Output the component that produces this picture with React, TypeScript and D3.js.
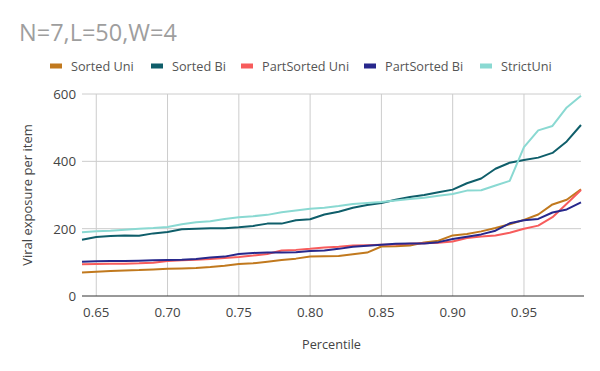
import React from "react";
import * as d3 from "d3";

const percentiles = [
  0.64, 0.65, 0.66, 0.67, 0.68, 0.69, 0.7, 0.71, 0.72, 0.73, 0.74, 0.75,
  0.76, 0.77, 0.78, 0.79, 0.8, 0.81, 0.82, 0.83, 0.84, 0.85, 0.86, 0.87,
  0.88, 0.89, 0.9, 0.91, 0.92, 0.93, 0.94, 0.95, 0.96, 0.97, 0.98, 0.99,
];

const sortedUni = [
  70, 72, 74, 76, 77, 79, 81, 82, 83, 86, 90, 95, 97, 102, 107, 111, 117,
  118, 119, 124, 129, 147, 148, 150, 159, 164, 180, 184, 192, 202, 213, 226,
  242, 272, 286, 317,
];
const sortedBi = [
  167, 175, 178, 180, 179, 186, 190, 198, 200, 201, 201, 204, 208, 215, 215,
  225, 228, 242, 250, 262, 270, 276, 286, 294, 300, 308, 316, 335, 349, 378,
  396, 404, 411, 425, 459, 508,
];
const partSortedUni = [
  94, 95, 96, 96, 97, 99, 104, 106, 108, 110, 113, 116, 120, 125, 135, 137,
  140, 144, 146, 150, 151, 152, 153, 155, 157, 158, 162, 172, 177, 180, 188,
  200, 209, 234, 274, 315,
];
const partSortedBi = [
  102, 103, 104, 104, 105, 106, 107, 108, 110, 114, 117, 125, 128, 129, 129,
  130, 134, 135, 140, 146, 149, 152, 155, 156, 156, 160, 169, 176, 183, 194,
  216, 225, 229, 248, 257, 278,
];
const strictUni = [
  189, 192, 194, 197, 200, 202, 205, 213, 219, 222, 229, 234, 237, 241, 249,
  254, 259, 262, 267, 273, 276, 279, 284, 288, 292, 298, 303, 313, 314, 328,
  342, 442, 492, 505, 560, 595,
];

const seriesNames = ["Sorted Uni", "Sorted Bi", "PartSorted Uni", "PartSorted Bi", "StrictUni"];
const seriesColors = ["#c1791e", "#0f5e6a", "#f75c5c", "#27288c", "#8ad9d2"];
const seriesValues = [sortedUni, sortedBi, partSortedUni, partSortedBi, strictUni];

const xTicks = [0.65, 0.7, 0.75, 0.8, 0.85, 0.9, 0.95];
const yTicks = [0, 200, 400, 600];

const font = "'Open Sans', Roboto, sans-serif";

export default function App() {
  const width = 600;
  const height = 371;
  const margin = { top: 94, right: 19, bottom: 75, left: 82 };

  const x = d3
    .scaleLinear()
    .domain([0.64, 0.99])
    .range([margin.left, width - margin.right]);
  const y = d3
    .scaleLinear()
    .domain([0, 600])
    .range([height - margin.bottom, margin.top]);

  const line = d3
    .line<number>()
    .x((_, i) => x(percentiles[i]))
    .y((d) => y(d));

  const legendX = [50, 151, 241, 364, 480];

  return (
    <svg
      width={width}
      height={height}
      style={{ position: "absolute", left: 0, top: 0, background: "#fff" }}
      fontFamily={font}
    >
      <rect width={width} height={height} fill="#fff" />
      <text x={19} y={41} fontSize={23.5} fill="#9e9e9e">
        N=7,L=50,W=4
      </text>

      {seriesNames.map((name, i) => (
        <g key={name} transform={`translate(${legendX[i]},66)`}>
          <rect x={0} y={-2.5} width={12} height={5} fill={seriesColors[i]} />
          <text x={21} y={5} fontSize={12.7} fill="#555">
            {name}
          </text>
        </g>
      ))}

      {xTicks.map((t) => (
        <g key={t}>
          <line x1={x(t)} x2={x(t)} y1={y(600)} y2={y(0)} stroke="#ccc" />
          <text
            x={x(t)}
            y={y(0) + 21}
            textAnchor="middle"
            fontSize={13.3}
            fill="#444"
          >
            {d3.format(".2f")(t)}
          </text>
        </g>
      ))}
      {yTicks.map((t) => (
        <g key={t}>
          {t > 0 && (
            <line x1={x(0.64)} x2={x(0.99)} y1={y(t)} y2={y(t)} stroke="#ccc" />
          )}
          <text
            x={76}
            y={y(t) + 5}
            textAnchor="end"
            fontSize={13.3}
            fill="#444"
          >
            {t}
          </text>
        </g>
      ))}

      {seriesValues.map((vals, i) => (
        <path
          key={seriesNames[i]}
          d={line(vals) || ""}
          fill="none"
          stroke={seriesColors[i]}
          strokeWidth={2}
          strokeLinejoin="round"
        />
      ))}

      <line
        x1={x(0.64)}
        x2={x(0.99) + 3}
        y1={y(0)}
        y2={y(0)}
        stroke="#333"
      />

      <text
        x={(x(0.64) + x(0.99)) / 2}
        y={349}
        textAnchor="middle"
        fontSize={12.7}
        fill="#444"
      >
        Percentile
      </text>
      <text
        transform={`translate(32,${(y(0) + y(600)) / 2}) rotate(-90)`}
        textAnchor="middle"
        fontSize={13}
        fill="#444"
      >
        Viral exposure per item
      </text>
    </svg>
  );
}
